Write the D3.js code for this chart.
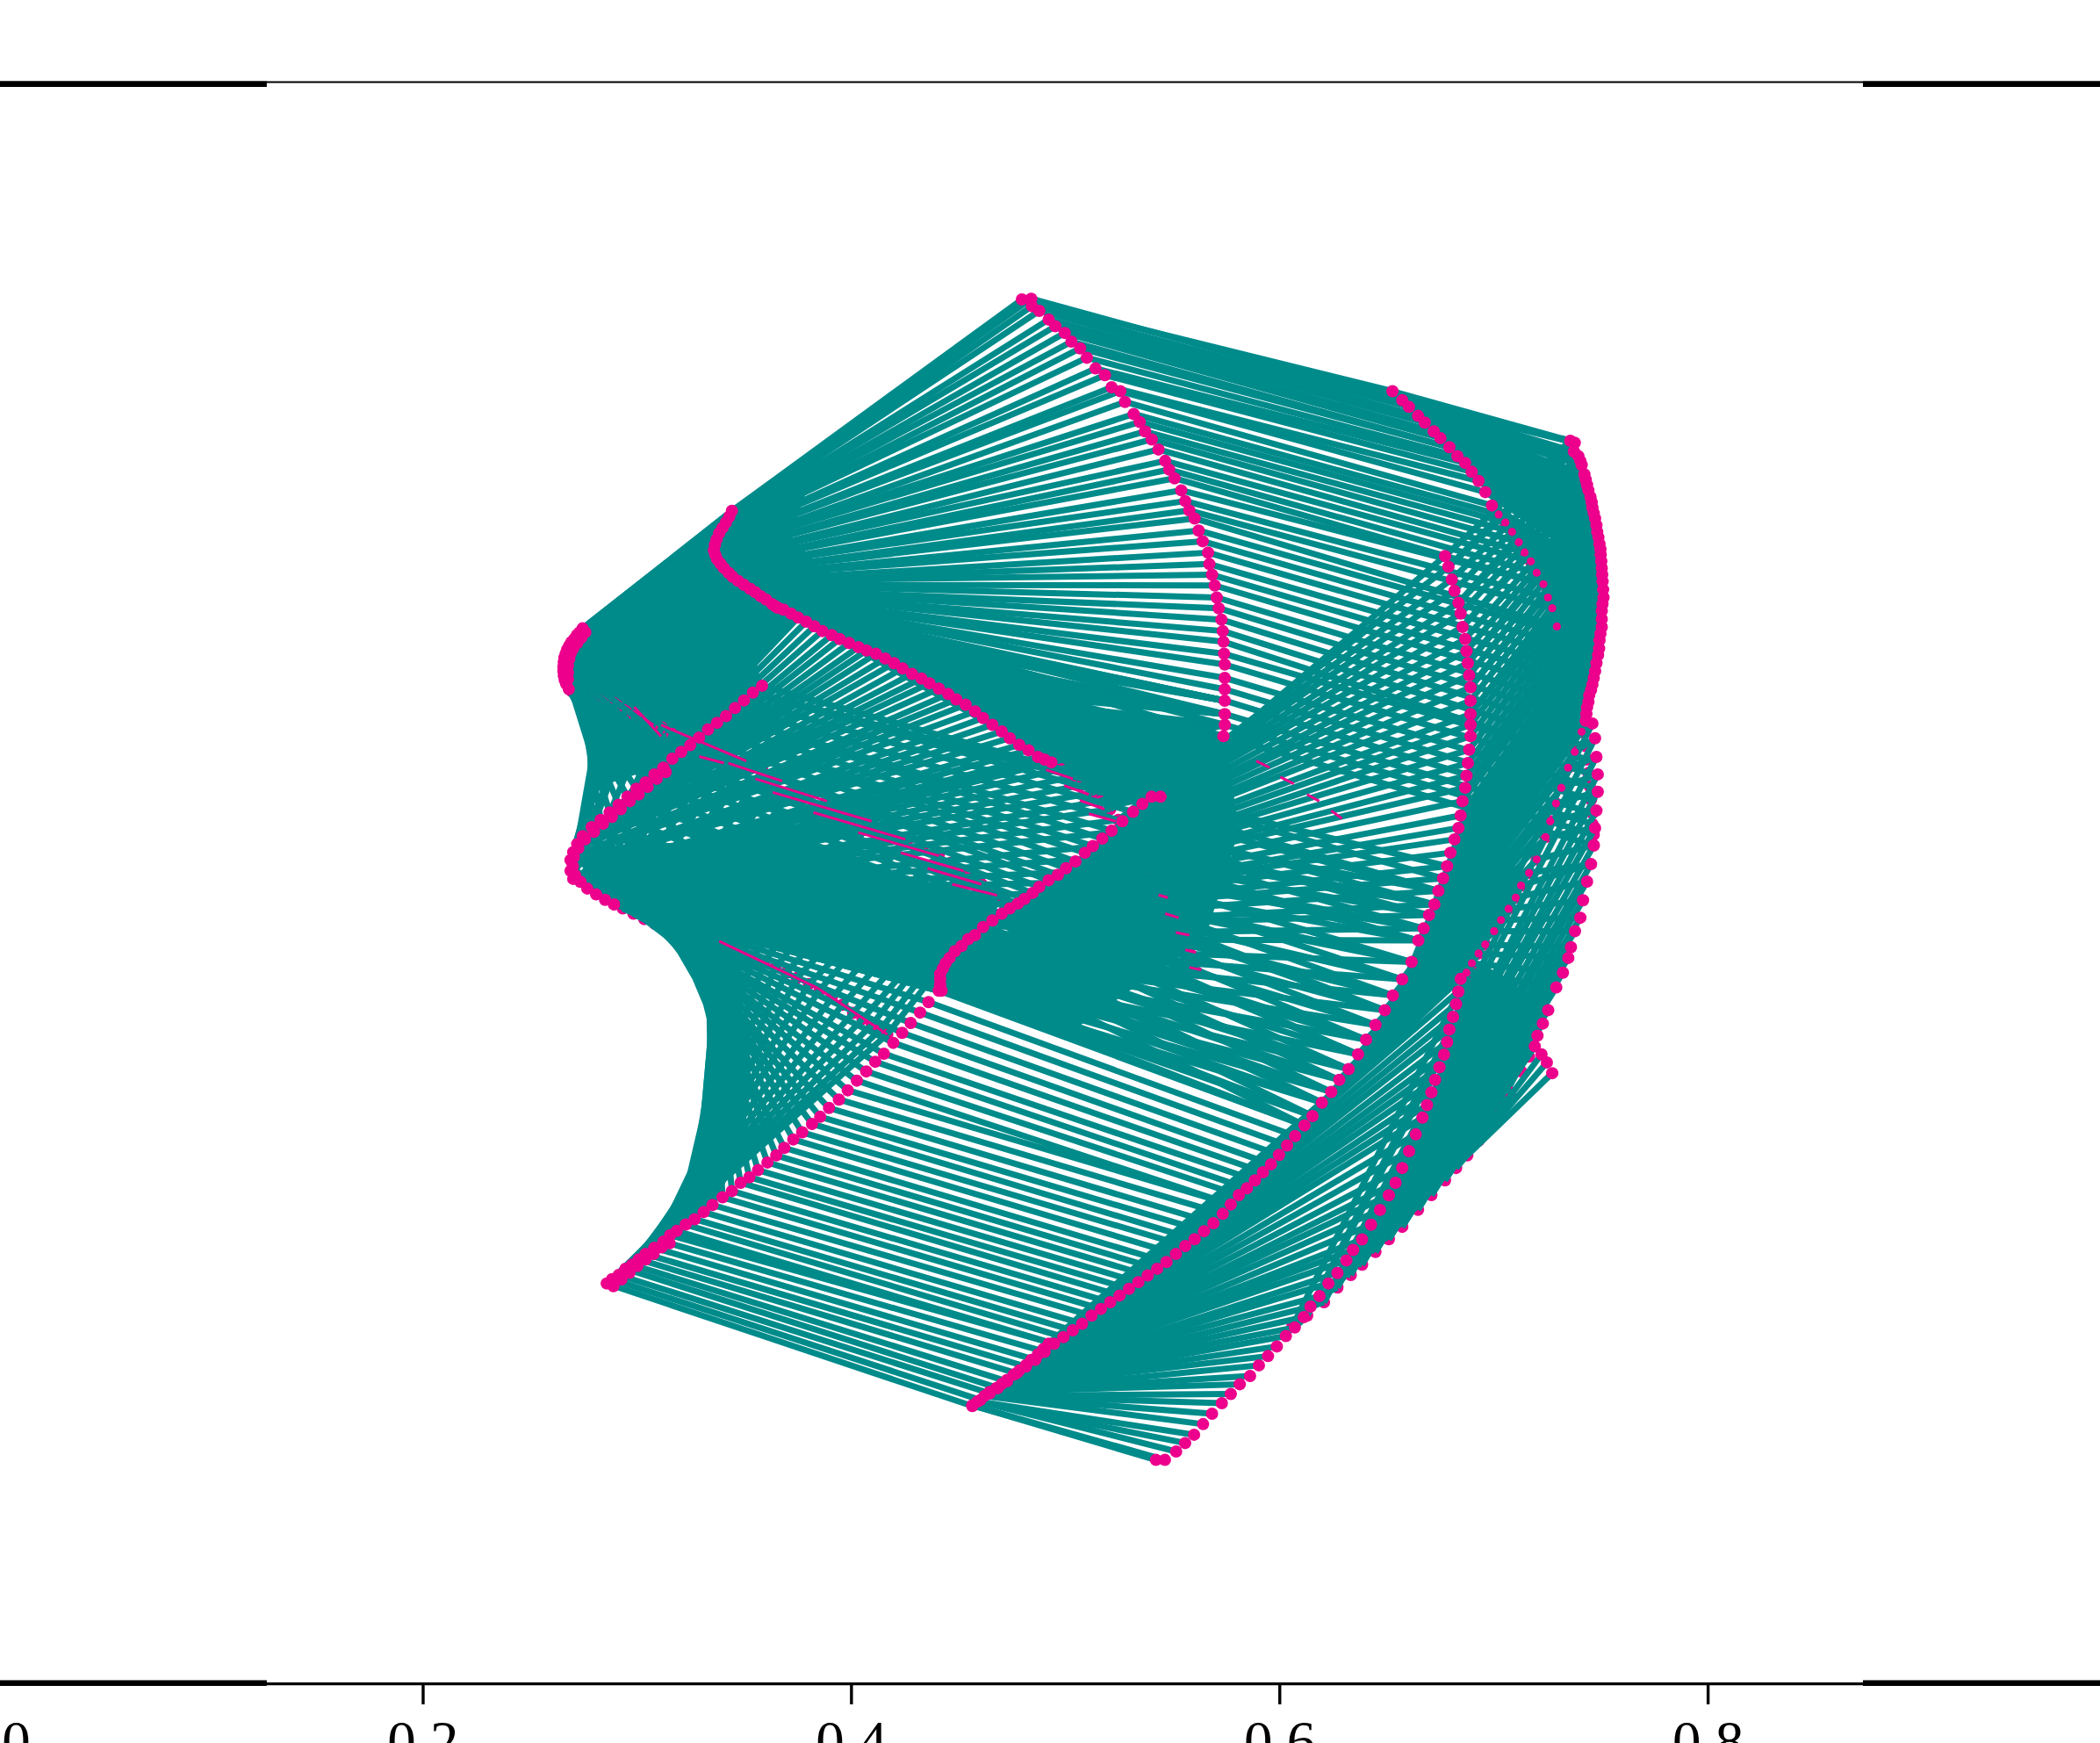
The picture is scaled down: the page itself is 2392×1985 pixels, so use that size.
<!DOCTYPE html>
<html><head><meta charset="utf-8">
<script src="https://d3js.org/d3.v7.min.js"></script>
<style>html,body{margin:0;padding:0;background:#fff}svg{display:block}</style></head>
<body><svg id="c" width="2392" height="1985"></svg>
<script>
// Curve readings: flat x,y lists, in units of the picture as read (1568 x 1301 frame).
const curveC=[763,223.5,770,223,770.5,228.5,776,232,783,238.5,788,243.5,795,248.5,800,255,806.5,260,811.5,267,818,275,825,280,830,289,836.5,292,840,300,846.5,309,851,315,855,322,860,328,865,335.5,870,344,873,350.5,877,357,882,366,885,374,888,381,892,387,895,396,898,404,902,412.5,903,421,905,429,907,437,908.5,446,910,454,912,462.5,913,471,913.5,479,914,488,914.5,496,914.5,506,914.5,514.5,914.5,523,914.5,533,914.5,541,913.5,549.5];
const curveB1=[546.5,381.3,544.5,385.7,542,390,539.5,394,537,398,535,402.7,533.8,406.7,533,410.7,534,414,535.4,417.4,538,420.8,540.5,424,544,427.5,547,430.5,551,433.5,555.5,436.5,560,439.5,564,442,568,445,572,447.5,576.6,451,580.6,453.5];
const curveB2=[579,452.5,585,455,590.6,458,596,461,602,464,608,467.5,614,471,621,474,627,477,634,480,641,483,647,485.5,654,488,661,491.5,667.5,495,674,499,681,503,688,506.5,694,510,701,514,708,518,714,522,721,526,728,531,734,536,741,541,748,546,754,551,761,556,768,560,775,565,780,567,785,569];
const curveB3=[792,574,800,580,808,586,815,592,822,598,829,604,835,612,841,620,847,629,852,638,858,648,863,657,868,666,873,676,878,686,883,697,888,708,892,718,894,726];
const curveA1=[435,469,432.8,472,430.8,474,428.8,477,426.7,479.3,425,482,423.4,485,422.4,488,421.4,491,421,494.3,420.7,497.7,420.7,501,421,504.4,421.7,507.7,422.7,510.4,424.7,514.4];
const curveA3=[437,472,434,476,431,480,428,484,426,488,425,492,424,497,424,502,424,507];
const curveA2=[427,516,433,517,440,519,450,522,460,524.5,467,530,474,534.5,484,539,494,543,502,548,510,553,522,557,534,561,545,564.5,557,568,569,574.5,581,581,593,587,605,592,617,598,628,603,640,608,651,613,664,620,678,626.5,689,632,701,638,710,644,719,650,726,655,733,660,739,664,745,668];
const curveP1=[569,511.8,562.2,517,555.5,522.8,548.8,528.5,542.1,534.5,535.4,539.5,528.7,544.5,522,550.5,515.4,556.2,508.7,561.2,502,566.3,495.3,573,488.6,578,482,584,475.2,588.7,468.5,594.7,461.9,600.7,455.2,606.4,448.5,612,441.8,617.4,435.1,624.1,431,630,428,636,426,642,426,650,428,656];
const curveP2=[497,576.3,490.3,581.3,483.6,587.3,476.9,593,470.2,598,463.5,604,456.8,609.7,450.2,614.8,443.5,620.8,436.8,626.5,431.8,633.1,428.4,639.8,427.7,646.5,429.4,653.2,433.4,658.2,438.5,663.2,445.1,667.6,451.8,671.6,458.5,675];
const curveP3=[458.5,675,465,678,473,682,481,686,489,689.5,497,692,505,695,513,697.5,521,699.5,529,701,537,702.5,545,706.5,554,710,562,714,570.5,718,579,722,587,726,595,730,604,734.5,612,739,621,745,629,750,637,756,644,760.5,651,765,657,769,662.5,772];
const curveL=[701,739.5,693.3,748,687,755.8,680,763.6,673.6,770.9,667,778.4,660,786.5,653.5,792.5,646.8,799.7,639.8,806.6,633,813.8,626.4,820.7,619,827,612.4,833.6,606.3,838.9,599,845.2,592.3,850.5,585.6,856.8,579.6,862.4,573,867.7,566,873.4,559.5,878.7,553,882.8,546.5,889,539.5,893.7,532,899.4,525.4,904.7,518.7,910,512,914,505.3,918.8,500.3,922,495.3,926.7,488.6,931.4,482,936,477,940,472,944,467,947,462,951.7,457,954.8,453,958];
const curveL2=[500,928,494,931,488,936,482,940,476,945,470,950,464,955,458,960];
const curveG=[866.5,594.7,859.8,594.7,853,600,846,606,838,613,830,620,823,626,816,631.5,810,636.5,803,643,796,648,790,653,783,657,776,662,771,666.5,765,671,760,674.5,754,678,748,682,741,687,734,692,728,698,723,701,718,706,713,710,709,715,706,719,704,723,702,727,702,731,702,735,703,739.5];
const curveH1=[1079,415,1081.5,423,1084,432.5,1086,441,1089,450,1090.6,458,1092,468,1094,477,1095,486,1096,495,1097,504,1098,513,1098,523,1098,533,1098,541,1098,549.5,1097,559.6,1096,569.6,1095,579,1094,588,1092,598,1090.6,608.7,1089,618,1086,626.5,1083,636.5,1080.5,646.5,1077.5,655.6,1074,665,1071,675,1067,683,1063,693,1059,702,1054,718,1047,731,1040,743,1034,754,1027,765,1020,776,1014,787,1007,798,1000,806,994,815,987,823,980,833,974,840];
const curveH2=[967,848,961,855,955,862,949,869,943,875,937,881,931,887,925,892,919,899,913,906,906,913,899,919,892,925,885,930,878,936,871,942,864,947,857,952,850,957,843,962,836,967,829,972,822,977,815,982,808,988,801,993,794,998,787,1003,780,1009,773,1015,766,1020,759,1025,752,1031,745,1036,739,1040,732,1045,726,1049.5];
const curveH3=[726,1049,730,1046,735,1042,739,1039,744,1036,748,1033,752,1030,757,1026,761,1023,766,1019,770,1015,775,1011,779,1007,783,1003];
const curveQ=[863.1,1089.7,869.8,1089.7,878.2,1083.4,884.9,1077.1,891.6,1070.9,898.3,1063,905,1055.2,912.3,1047.4,919,1040.5,925.7,1033.2,933.4,1027,940,1019.1,946.8,1012.2,953.4,1005,960.1,997.2,966.8,990.9,973.5,983.1,978.5,975.3,985.2,967.4,991.9,958,998.6,950.2,1005.3,940.8,1010.3,933,1017,925.1,1023.7,914.1,1030.4,903.1,1037,892.2,1042,882.8,1047,871.8,1052.1,859.3,1057.1,846.7,1062.1,834.2,1065.5,824.8,1068.8,815.4,1071.5,806,1074.8,796.6,1078.2,787.2,1080.5,777.8,1082.2,768.4,1084.9,759,1087.2,749.5,1088.9,740.1,1090.6,730.7];
const curveD1=[1039.7,292,1047,298.7,1052,303.7,1058.8,310.4,1063.8,315.4,1070.5,322,1075.5,327,1082.2,333.8,1088.2,340.5,1093.9,345.5,1098.9,352.2,1104,359,1109,367.3,1114,377.3];
const curveD2=[1119,384,1124,390,1129,397,1134,404.7,1138.4,412.4,1143,419,1147.4,427.5,1152.4,436,1155.8,446,1159,454,1162.5,467.6,1164,472,1167,481,1170,490,1173,499,1175,508,1177,517,1179,527,1181,537,1183,547,1184,557,1185,567,1186,577,1187,587,1188,597,1189,607,1189,615,1190,623,1190,631];
const curveE=[1172.5,329,1175.8,330.5,1175.2,337,1178.5,340.5,1180,344,1181,347,1183,354,1184,358,1185,362,1186,366,1187.6,371,1188.5,375,1189,379,1190,383,1191,387,1192,392,1192.6,397,1193.5,401,1194.3,406,1195,410,1195.2,414,1195.6,419,1196,424,1196.3,429,1196.6,434,1197,440,1197.3,446,1196.5,451,1196,456,1196,462,1196,468,1195,473,1194.3,478,1194,484,1193.2,489,1192,495,1191,501,1190,506,1189,511,1188,515,1186.6,519,1186,524,1185,528,1184.5,533,1184,538];
const curveJ=[1180.9,546.2,1175.8,561.2,1170.8,573,1165.8,588,1161.8,599.7,1157.5,613,1154,624.8,1147.4,641.5,1141.7,651.5,1135.7,661,1131.7,670,1126.4,678.3,1120.7,686.7,1115.6,695,1109,705,1104,711.7,1099,719,1095,726];
const curveT=[1159,801,1155,793,1151,787,1146,781,1148,773,1152,764,1156,754,1162,737,1167,726,1171,715,1173,707,1176,695,1180,685,1182,672,1185,658,1188,645,1190,631,1191,618,1192,605,1193,591,1193,578,1192,565,1191,551,1189,540];
const curveO=[965,990,976,982,988.6,972,998.6,961,1008.6,951.7,1017,944,1027,934.5,1037,925,1047,915.7,1058.8,903,1068.8,892,1078.9,881,1087.2,871.8,1095.6,862.4,1104,851.4,1112.3,840.5,1120.7,828,1127.4,815.4,1135.7,799.7,1141.7,788.7];
// pink remnants that show between the strands: x1,y1,x2,y2
const remnants=[473.6,527.8,493.6,549.5,493.6,541.2,557.2,568,522,564.6,540.5,569.6,543.8,569.6,584,583,564,581.3,617.4,598,577,591.4,650.8,613,607.3,606.4,676,626.5,640.8,621.4,701,638.8,672.6,636.5,719.4,650,692.6,648.2,732.8,660,711,660,744.5,668.3,537,702.5,610.7,737.6,610.7,737.6,662.5,772,781,574.6,801,581.3,794.6,586.3,813,593,806.3,597.4,824.7,604,813,607.4,833,613,865,668,872,670,870,682,880,685,878,696,888,698,885,709,893,711,888,722,897,724,938,568,948,573,956,580,966,585,976,593,985,598,994,605,1002,611];
// areas that read as solid colour: closing outlines
const solidArc2=[460,674,480,686,494,696,506,712,517,731,525,750,530.4,771.5,532,785,533,800,531,825,527,850,518,872,507,894,485,925,453.5,961,535,898,556,850,560,800,553,740,540,702];
const solidLeft=[427,516,435,469,546,381,580,453,590,465,565,495,569,512,500,570,438,590,440,570,438,552,434,535];
const solidG=[866,595,915,550,925,620,900,700,800,770,702,740];
const solidMid=[430,640,560,620,700,660,750,670,702,738,458,675];
const solidFan=[546,381,615,332,590,400,620,430,700,480,790,520,850,535,912,549,866,596,829,604,785,569,580,453];
const solidBand=[1106,718,1156,753,1146,781];
const solidStrip=[1086,626,1059,702,1047,731,1090,731,1100,719,1141,651];
const tickValues=[0,0.2,0.4,0.6,0.8,1];
const tickLabels=["0.0","0.2","0.4","0.6","0.8","1.0"];

const W=2392,H=1985,TEAL="#008b8b",PINK="#ec008c",R=7;
const svg=d3.select("#c");
const rx=d3.scaleLinear().domain([0,1568]).range([0,W]);
const ry=d3.scaleLinear().domain([0,1301]).range([0,H]);
const ax=d3.scaleLinear().domain([0,1]).range([-6.4,2433]);
const P=a=>d3.range(0,a.length,2).map(i=>[a[i],a[i+1]]);
const c=P(curveC),b1=P(curveB1),b2=P(curveB2),b3=P(curveB3),a1=P(curveA1),a2=P(curveA2),a3=P(curveA3),
 p1=P(curveP1),p2=P(curveP2),p3=P(curveP3),l=P(curveL),l2=P(curveL2),g=P(curveG),h1=P(curveH1),h2=P(curveH2),h3=P(curveH3),
 q=P(curveQ),d1=P(curveD1),d2=P(curveD2),e=P(curveE),j=P(curveJ),t=P(curveT),o=P(curveO);
const dots=(arr,r)=>svg.append("g").selectAll("circle").data(arr).join("circle")
 .attr("cx",d=>rx(d[0])).attr("cy",d=>ry(d[1])).attr("r",r||R).attr("fill",PINK);
const outline=d3.line().x(d=>rx(d[0])).y(d=>ry(d[1]));
const solids=[
 P(solidArc2),P(solidLeft),P(solidG),P(solidMid),P(solidFan),
 [...q.slice(14),...P(solidBand),...o.slice().reverse()],
 P(solidStrip)
];
svg.append("g").selectAll("path").data(solids).join("path").attr("d",d=>outline(d)+"Z").attr("fill",TEAL);
dots([...a2,...b3,...p3,...d2,...j,...o]);
const aw=[...a1,...a2],bw=[...b1,...b2.slice(0,4)],pw=[...p1,...p2.slice(14),...p3],gl=[...g,...l];
const links=[
 [c,b1],[c,[...d1,...d2]],[e,[...d1,...d2.slice(0,11)]],
 [a1,b1],[a1,bw],[[...b2,...b3],p2.slice(6)],[[...b2,...b3.slice(0,8)],c.slice(-4)],
 [aw,pw,[0,15,20,48],[0,15,22,57]],
 [pw,gl,[0,21,31,41,57],[0,30,32,59,71]],
 [h1,g],[g.slice(0,25),h1.slice(25)],[g.slice(5,31),h1.slice(27)],
 [l,[...h1.slice(-1),...h2]],[h1,[...e,...j]],
 [q,h3],[q.slice(14),o],[t,o.slice(0,14).reverse()],[t.slice(7).reverse(),j]
];
const segs=[];
links.forEach(([A,B,ka,kb])=>{
 ka=ka||[0,A.length-1];kb=kb||[0,B.length-1];
 d3.pairs(d3.range(ka.length)).forEach(([m,n])=>{
  const steps=Math.max(ka[n]-ka[m],kb[n]-kb[m]);
  const fa=d3.scaleLinear().domain([0,steps]).range([ka[m],ka[n]]),fb=d3.scaleLinear().domain([0,steps]).range([kb[m],kb[n]]);
  d3.range(steps+1).forEach(i=>segs.push([A[Math.round(fa(i))],B[Math.round(fb(i))]]));
 });
});
svg.append("g").selectAll("line").data(segs).join("line")
 .attr("x1",d=>rx(d[0][0])).attr("y1",d=>ry(d[0][1])).attr("x2",d=>rx(d[1][0])).attr("y2",d=>ry(d[1][1]))
 .attr("stroke",TEAL).attr("stroke-width",7);
svg.append("g").selectAll("line").data(d3.range(0,remnants.length,4)).join("line")
 .attr("x1",i=>rx(remnants[i])).attr("y1",i=>ry(remnants[i+1])).attr("x2",i=>rx(remnants[i+2])).attr("y2",i=>ry(remnants[i+3]))
 .attr("stroke",PINK).attr("stroke-width",3);
dots([...d2.slice(0,11),...j],4.6);
dots([...c,...b1,...b2,...a1,...a3,...p1,...p2,...l,...l2,...g,...h1,...h2,...h3,...q,...d1,...e,...t]);
const breaks=[0.1272,0.8725];
const yTop=93.5,yBot=1917.6;
[yTop,yBot].forEach((y,n)=>{
 svg.append("line").attr("x1",0).attr("x2",W).attr("y1",y).attr("y2",y).attr("stroke","#000").attr("stroke-width",n?3.2:2.2);
 const yy=n?1916.7:95.8;
 [[-10,breaks[0]],[breaks[1],1.1]].forEach(([u,v])=>svg.append("line").attr("x1",ax(u)).attr("x2",ax(v)).attr("y1",yy).attr("y2",yy).attr("stroke","#000").attr("stroke-width",6.6));
});
const axis=d3.axisBottom(ax).tickValues(tickValues).tickSize(23).tickSizeOuter(0).tickPadding(18).tickFormat((d,i)=>tickLabels[i]);
const ag=svg.append("g").attr("transform",`translate(0,${yBot+0.4})`).call(axis);
ag.select(".domain").remove();
ag.selectAll("line").attr("stroke","#000").attr("stroke-width",3.4);
ag.selectAll("text").attr("font-family","'Liberation Serif',serif").attr("font-size",65).attr("fill","#000");
</script></body></html>
